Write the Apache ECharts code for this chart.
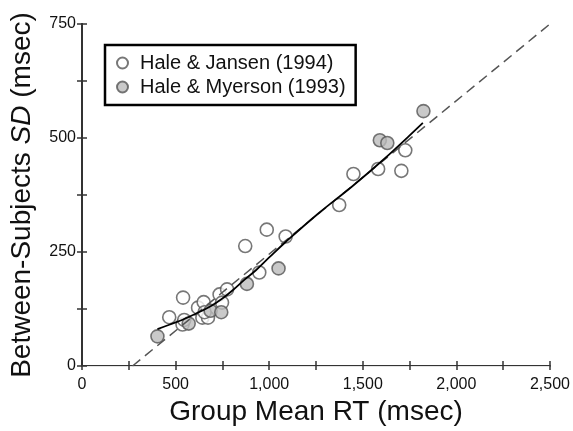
<!DOCTYPE html>
<html lang="en">

<head>
    <meta charset="UTF-8">
    <title>SD vs RT</title>
    <script src="https://cdn.jsdelivr.net/npm/echarts@6/dist/echarts.min.js"></script>
    <style>
        body { margin: 0; background: #fff; }
    </style>
</head>

<body>
    <div id="main" style="width: 573px;height:431px;"></div>

    <script type="text/javascript">
        // Hale & Jansen (1994) - open circles
        const jansenX = [466, 540, 537, 546, 620, 650, 643, 673, 655, 735, 748, 775, 947, 872, 987, 1088, 1374, 1450, 1582, 1706, 1727];
        const jansenY = [107, 150, 91, 101, 128, 140, 106, 106, 118, 157, 139, 168, 205, 263, 299, 284, 353, 421, 432, 428, 473];
        // Hale & Myerson (1993) - grey circles
        const myersonX = [403, 570, 687, 744, 881, 1050, 1591, 1631, 1824];
        const myersonY = [65, 93, 121, 118, 180, 214, 495, 489, 559];
        // smoothed fit (solid) and linear fit (dashed)
        const fitX = [403, 470, 540, 610, 687, 750, 805, 870, 929, 1000, 1088, 1264, 1441, 1617, 1741, 1821];
        const fitY = [81, 91, 102, 115, 131, 148, 166, 190, 210, 238, 272, 335, 393, 455, 502, 533];
        const lineX = [270, 2500];
        const lineY = [0, 750];

        const xTicks = [0, 500, 1000, 1500, 2000, 2500];
        const yTicks = [0, 250, 500, 750];

        const zip = (xs, ys) => xs.map((x, i) => [x, ys[i]]);

        var myChart = echarts.init(document.getElementById('main'));

        const font = 'Liberation Sans, Arial, sans-serif';
        const axisColor = '#333';

        option = {
            animation: false,
            backgroundColor: '#fff',
            textStyle: { fontFamily: font },
            grid: { left: 78, right: 23, top: 24, bottom: 64 },
            legend: {
                left: 105,
                top: 45,
                orient: 'vertical',
                backgroundColor: '#fff',
                borderColor: '#000',
                borderWidth: 2.5,
                borderRadius: 0,
                padding: [8, 10, 8, 11],
                itemGap: 4,
                itemWidth: 11,
                itemHeight: 11,
                textStyle: { fontSize: 20, color: '#111', fontFamily: font, padding: [0, 0, 0, 7] },
                data: ['Hale & Jansen (1994)', 'Hale & Myerson (1993)']
            },
            xAxis: [{
                type: 'value',
                min: 0, max: 2500, interval: 250,
                name: 'Group Mean RT (msec)',
                nameLocation: 'middle',
                nameGap: 32,
                nameTextStyle: { fontSize: 28, color: '#111', fontFamily: font },
                axisLine: { lineStyle: { color: axisColor, width: 2 } },
                axisTick: { inside: true, length: 5, lineStyle: { color: axisColor, width: 1.5 } },
                axisLabel: {
                    fontSize: 16, color: '#111', margin: 11,
                    formatter: v => xTicks.includes(v) ? v.toLocaleString('en-US') : ''
                },
                splitLine: { show: false }
            }, {
                type: 'value',
                position: 'top',
                min: 0, max: 2500, interval: 250,
                axisLine: { show: true, lineStyle: { color: '#e4e4e4', width: 1 } },
                axisTick: { inside: true, length: 4, lineStyle: { color: axisColor, width: 1.5 } },
                axisLabel: { show: false },
                splitLine: { show: false }
            }],
            yAxis: [{
                type: 'value',
                min: 0, max: 750, interval: 125,
                name: '{n|Between-Subjects }{i|SD}{n| (msec)}',
                nameLocation: 'middle',
                nameGap: 46,
                nameTextStyle: {
                    rich: {
                        n: { fontSize: 28, color: '#111', fontFamily: font },
                        i: { fontSize: 28, color: '#111', fontFamily: font, fontStyle: 'italic' }
                    }
                },
                axisLine: { lineStyle: { color: axisColor, width: 2 } },
                axisTick: { inside: true, length: 5, lineStyle: { color: axisColor, width: 1.5 } },
                axisLabel: {
                    fontSize: 16, color: '#111', margin: 6,
                    formatter: v => yTicks.includes(v) ? String(v) : ''
                },
                splitLine: { show: false }
            }, {
                type: 'value',
                position: 'right',
                min: 0, max: 750, interval: 125,
                axisLine: { show: true, lineStyle: { color: axisColor, width: 2 } },
                axisTick: { inside: true, length: 5, lineStyle: { color: axisColor, width: 1.5 } },
                axisLabel: { show: false },
                splitLine: { show: false }
            }],
            series: [
                {
                    name: 'Hale & Jansen (1994)',
                    type: 'scatter',
                    symbol: 'circle',
                    symbolSize: 13,
                    itemStyle: { color: '#fff', borderColor: '#555', borderWidth: 1.6 },
                    data: zip(jansenX, jansenY),
                    z: 2
                },
                {
                    name: 'Hale & Myerson (1993)',
                    type: 'scatter',
                    symbol: 'circle',
                    symbolSize: 13,
                    itemStyle: { color: '#bcbcbc', borderColor: '#555', borderWidth: 1.6 },
                    data: zip(myersonX, myersonY),
                    z: 3
                },
                {
                    name: 'linear',
                    type: 'line',
                    showSymbol: false,
                    lineStyle: { color: '#555', width: 1.5, type: [10, 6] },
                    data: zip(lineX, lineY),
                    z: 4
                },
                {
                    name: 'fit',
                    type: 'line',
                    smooth: 0.4,
                    showSymbol: false,
                    lineStyle: { color: '#000', width: 1.8 },
                    data: zip(fitX, fitY),
                    z: 5
                }
            ]
        };

        myChart.setOption(option);
    </script>
</body>

</html>
